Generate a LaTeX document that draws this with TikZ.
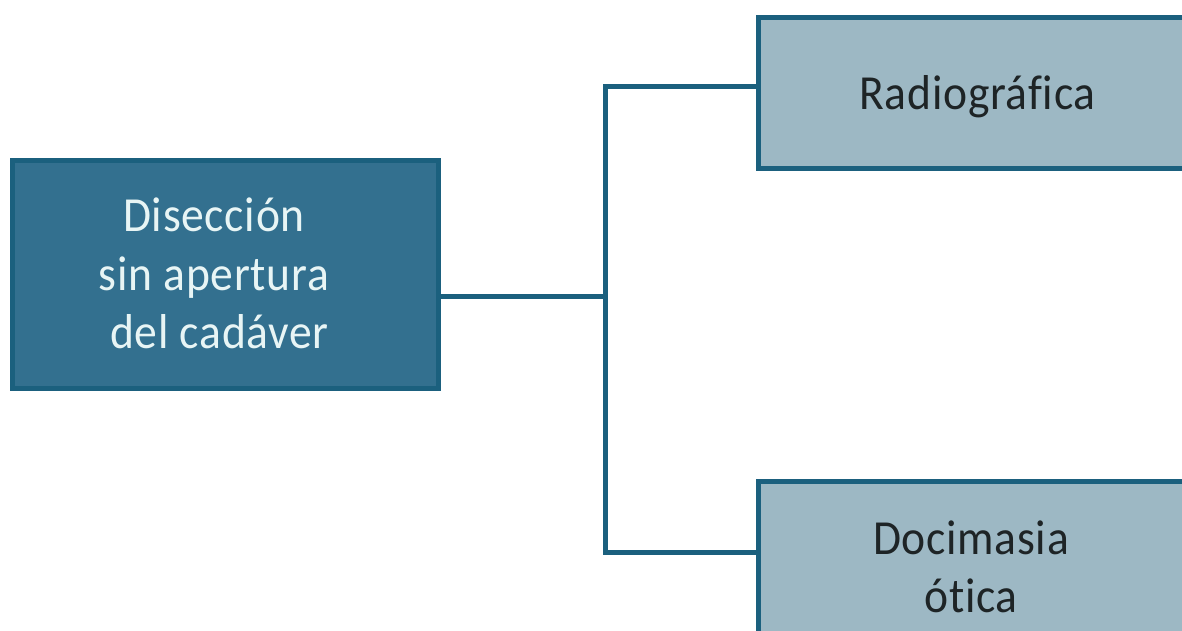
\documentclass[tikz,border=0pt]{standalone}
\usepackage{fontspec}
\setmainfont[FakeStretch=0.93,LetterSpace=1.5,Ligatures=NoCommon]{Carlito}
\definecolor{dk}{HTML}{33708F}
\definecolor{ln}{HTML}{1B607E}
\definecolor{lt}{HTML}{9DB8C4}
\definecolor{tx}{HTML}{1E2426}
\definecolor{lttx}{HTML}{E8F5F5}
\begin{document}
\begin{tikzpicture}[x=1pt,y=-1pt,
  mainbox/.style={draw=ln,fill=dk,line width=5pt,minimum width=426pt,minimum height=227pt,inner sep=0pt},
  subbox/.style={draw=ln,fill=lt,line width=5pt,inner sep=0pt},
  lbl/.style={align=center,font=\fontsize{49}{58.5}\selectfont},
  link/.style={draw=ln,line width=5pt,line join=miter}]
\useasboundingbox (0,0) rectangle (1182,631);
\begin{scope}
\clip (0,0) rectangle (1182,631);
\node[mainbox] (m) at (225.5,274.5) {};
\node[subbox,minimum width=450pt,minimum height=151pt] (r) at (983,93) {};
\node[subbox,minimum width=450pt,minimum height=180pt] (d) at (983,571) {};
\coordinate (j) at (605,296);
\draw[link] (m.east |- j) -- (j);
\draw[link] (r.west |- 0,87) -| (j) |- (d.west |- 0,552);
\end{scope}
\node[lbl,text=lttx] (mt) at (214,273.5) {Disección\\sin apertura\\\ del cadáver};
\node[lbl,text=tx] (rt) at (977.5,97) {Radiográfica};
\node[lbl,text=tx] (dt) at (971,567) {Docimasia\\ótica};
\end{tikzpicture}
\end{document}
